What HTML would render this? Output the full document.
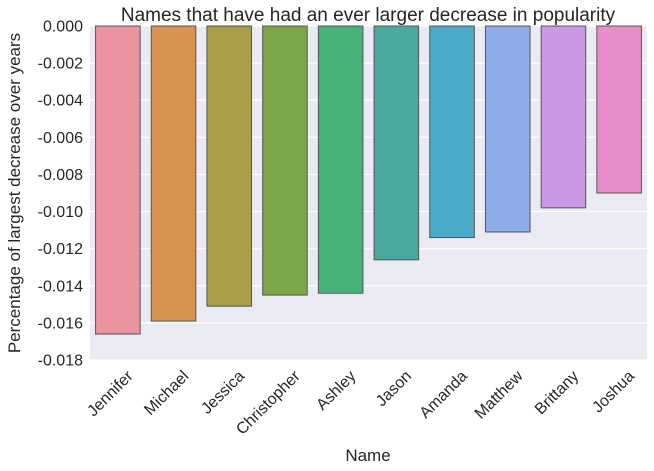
<!DOCTYPE html>
<html><head><meta charset="utf-8"><style>
body{margin:0;background:#fff;}
svg{display:block;font-family:"Liberation Sans",Arial,sans-serif;}
</style></head><body>
<svg id="chart" width="654" height="471"></svg>
<script>
const categories=["Jennifer","Michael","Jessica","Christopher","Ashley","Jason","Amanda","Matthew","Brittany","Joshua"];
const values=[-0.0166,-0.0159,-0.0151,-0.0145,-0.0144,-0.0126,-0.0114,-0.0111,-0.0098,-0.0090];
const colors=["#e9949e","#d7934f","#a99f48","#7ca746","#48b27b","#4ba89e","#4cabc8","#8eacea","#cb98e6","#e78dc7"];
const yTicks=[0,-0.002,-0.004,-0.006,-0.008,-0.010,-0.012,-0.014,-0.016,-0.018];
const NS="http://www.w3.org/2000/svg";
const svg=document.getElementById('chart');
const L=90,R=647,T=26,B=360;
const y=v=>T+(v/-0.018)*(B-T);
const step=(R-L)/categories.length;
const x=i=>L+step*(i+0.5);
function mk(tag,attrs,parent){const e=document.createElementNS(NS,tag);for(const k in attrs)e.setAttribute(k,attrs[k]);(parent||svg).appendChild(e);return e;}
const bg=mk('rect',{x:L,y:T,width:R-L,height:B-T,fill:'#eaeaf2'});


yTicks.forEach(t=>{
  const g=mk('line',{x1:L,x2:R,y1:y(t),y2:y(t),stroke:'#fff','stroke-width':1.2});
  
  
  const lb=mk('text',{x:83,y:y(t)+5.5,'text-anchor':'end','font-size':16,fill:'#262626'});
  lb.textContent=t===0?'0.000':t.toFixed(3);
  
  
});
categories.forEach((c,i)=>{
  const w=step*0.8;
  const r=mk('rect',{x:x(i)-w/2,y:y(0),width:w,height:y(values[i])-y(0),fill:colors[i],stroke:'#555','stroke-width':1});
  
  
  const ax=x(i)+16, ay=377;
  const t=mk('text',{x:ax,y:ay,'text-anchor':'end','font-size':16,fill:'#262626',transform:`rotate(-45 ${ax} ${ay})`});
  t.textContent=c;
  
  
});
const title=mk('text',{x:368,y:21,'text-anchor':'middle','font-size':19,fill:'#262626'});
title.textContent='Names that have had an ever larger decrease in popularity';


const xt=mk('text',{x:368,y:461,'text-anchor':'middle','font-size':17,fill:'#262626'});
xt.textContent='Name';


const yt=mk('text',{x:20,y:193,'text-anchor':'middle','font-size':17,fill:'#262626',transform:'rotate(-90 20 193)'});
yt.textContent='Percentage of largest decrease over years';


</script>
</body></html>
